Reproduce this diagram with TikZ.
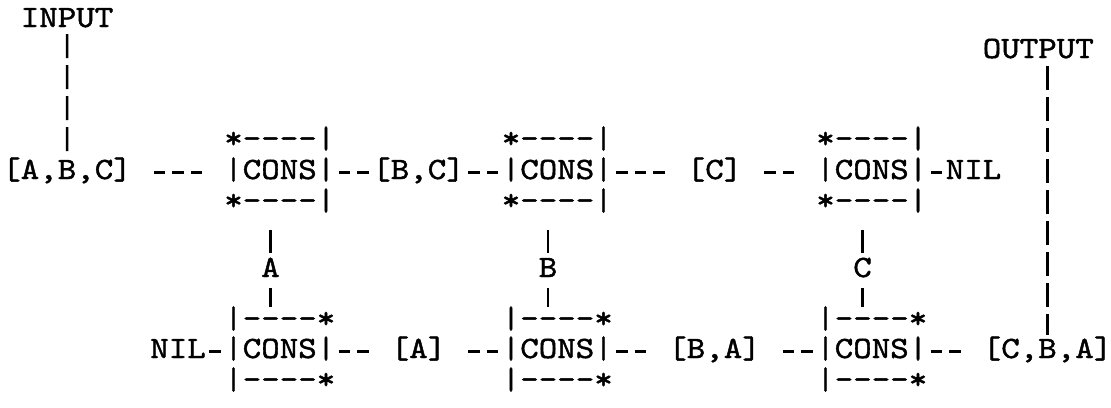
\documentclass[tikz,border=0pt]{standalone}
\usepackage{fontspec}
\newfontfamily\tw{lmmono10-regular.otf}[FakeStretch=1.137,FakeBold=1.4]
\begin{document}
\begin{tikzpicture}[x=1pt,y=-1pt,
  tt/.style={inner sep=0pt, outer sep=0pt, anchor=base west,
    font=\tw\fontsize{31pt}{34pt}\selectfont,
    text height=20.25pt, text depth=6.75pt},
  hconn/.style={line width=2.6pt, dash pattern=on 11.5pt off 7pt},
  vconn/.style={line width=2.5pt},
  vdash/.style={line width=2.5pt, dash pattern=on 24pt off 7pt}]
\useasboundingbox (0,0) rectangle (1111,407);
% labels
\node[tt] (in)  at (20.75,27)  {INPUT};
\node[tt] (out) at (982.75,58) {OUTPUT};
% top row
\node[tt] (abc) at (2.25,179)   {[A,B,C]};
\node[tt] (b1t) at (224.25,148) {*----|};
\node[tt] (b1)  at (224.25,179) {|CONS|};
\node[tt] (b1b) at (224.25,210) {*----|};
\node[tt] (bc)  at (372.25,179) {[B,C]};
\node[tt] (b2t) at (501.75,148) {*----|};
\node[tt] (b2)  at (501.75,179) {|CONS|};
\node[tt] (b2b) at (501.75,210) {*----|};
\node[tt] (c)   at (686.75,179) {[C]};
\node[tt] (b3t) at (816.25,148) {*----|};
\node[tt] (b3)  at (816.25,179) {|CONS|};
\node[tt] (b3b) at (816.25,210) {*----|};
\node[tt] (nil1) at (945.75,179) {NIL};
% letters
\node[tt] (A) at (261.25,277) {A};
\node[tt] (B) at (538.75,277) {B};
\node[tt] (C) at (853.25,277) {C};
% bottom row
\node[tt] (nil2) at (150.25,358) {NIL};
\node[tt] (b4t) at (224.25,328) {|----*};
\node[tt] (b4)  at (224.25,358) {|CONS|};
\node[tt] (b4b) at (224.25,389) {|----*};
\node[tt] (a)   at (390.75,358) {[A]};
\node[tt] (b5t) at (501.75,328) {|----*};
\node[tt] (b5)  at (501.75,358) {|CONS|};
\node[tt] (b5b) at (501.75,389) {|----*};
\node[tt] (ba)  at (668.25,358) {[B,A]};
\node[tt] (b6t) at (816.25,328) {|----*};
\node[tt] (b6)  at (816.25,358) {|CONS|};
\node[tt] (b6b) at (816.25,389) {|----*};
\node[tt] (cba) at (982.75,358) {[C,B,A]};
% top connectors
\draw[hconn, shorten <=22pt, shorten >=22pt] (abc.east) -- (b1.west);
\draw[hconn, shorten <=3.5pt, shorten >=3.5pt] (b1.east) -- (bc.west);
\draw[hconn, shorten <=3.5pt, shorten >=3.5pt] (bc.east) -- (b2.west);
\draw[hconn, shorten <=3.5pt, shorten >=22pt] (b2.east) -- (c.west);
\draw[hconn, shorten <=22pt, shorten >=22pt] (c.east) -- (b3.west);
\draw[hconn, shorten <=3.5pt, shorten >=3.5pt] (b3.east) -- (nil1.west);
% bottom connectors
\draw[hconn, shorten <=3.5pt, shorten >=3.5pt] (nil2.east) -- (b4.west);
\draw[hconn, shorten <=3.5pt, shorten >=22pt] (b4.east) -- (a.west);
\draw[hconn, shorten <=22pt, shorten >=3.5pt] (a.east) -- (b5.west);
\draw[hconn, shorten <=3.5pt, shorten >=22pt] (b5.east) -- (ba.west);
\draw[hconn, shorten <=22pt, shorten >=3.5pt] (ba.east) -- (b6.west);
\draw[hconn, shorten <=3.5pt, shorten >=22pt] (b6.east) -- (cba.west);
% input / output
\draw[vdash, shorten <=0.25pt, shorten >=7.75pt] (in.south) -- (abc.north);
\draw[vdash, shorten <=1pt, shorten >=3pt] (cba.north |- out.south) -- (cba.north);
% vertical links
\draw[vconn, shorten <=13pt, shorten >=4pt] (b1b.south -| A) -- (A.north);
\draw[vconn, shorten <=4pt, shorten >=1pt] (A.south) -- (A.south |- b4t.north);
\draw[vconn, shorten <=13pt, shorten >=4pt] (b2b.south -| B) -- (B.north);
\draw[vconn, shorten <=4pt, shorten >=1pt] (B.south) -- (B.south |- b5t.north);
\draw[vconn, shorten <=13pt, shorten >=4pt] (b3b.south -| C) -- (C.north);
\draw[vconn, shorten <=4pt, shorten >=1pt] (C.south) -- (C.south |- b6t.north);
\end{tikzpicture}
\end{document}
